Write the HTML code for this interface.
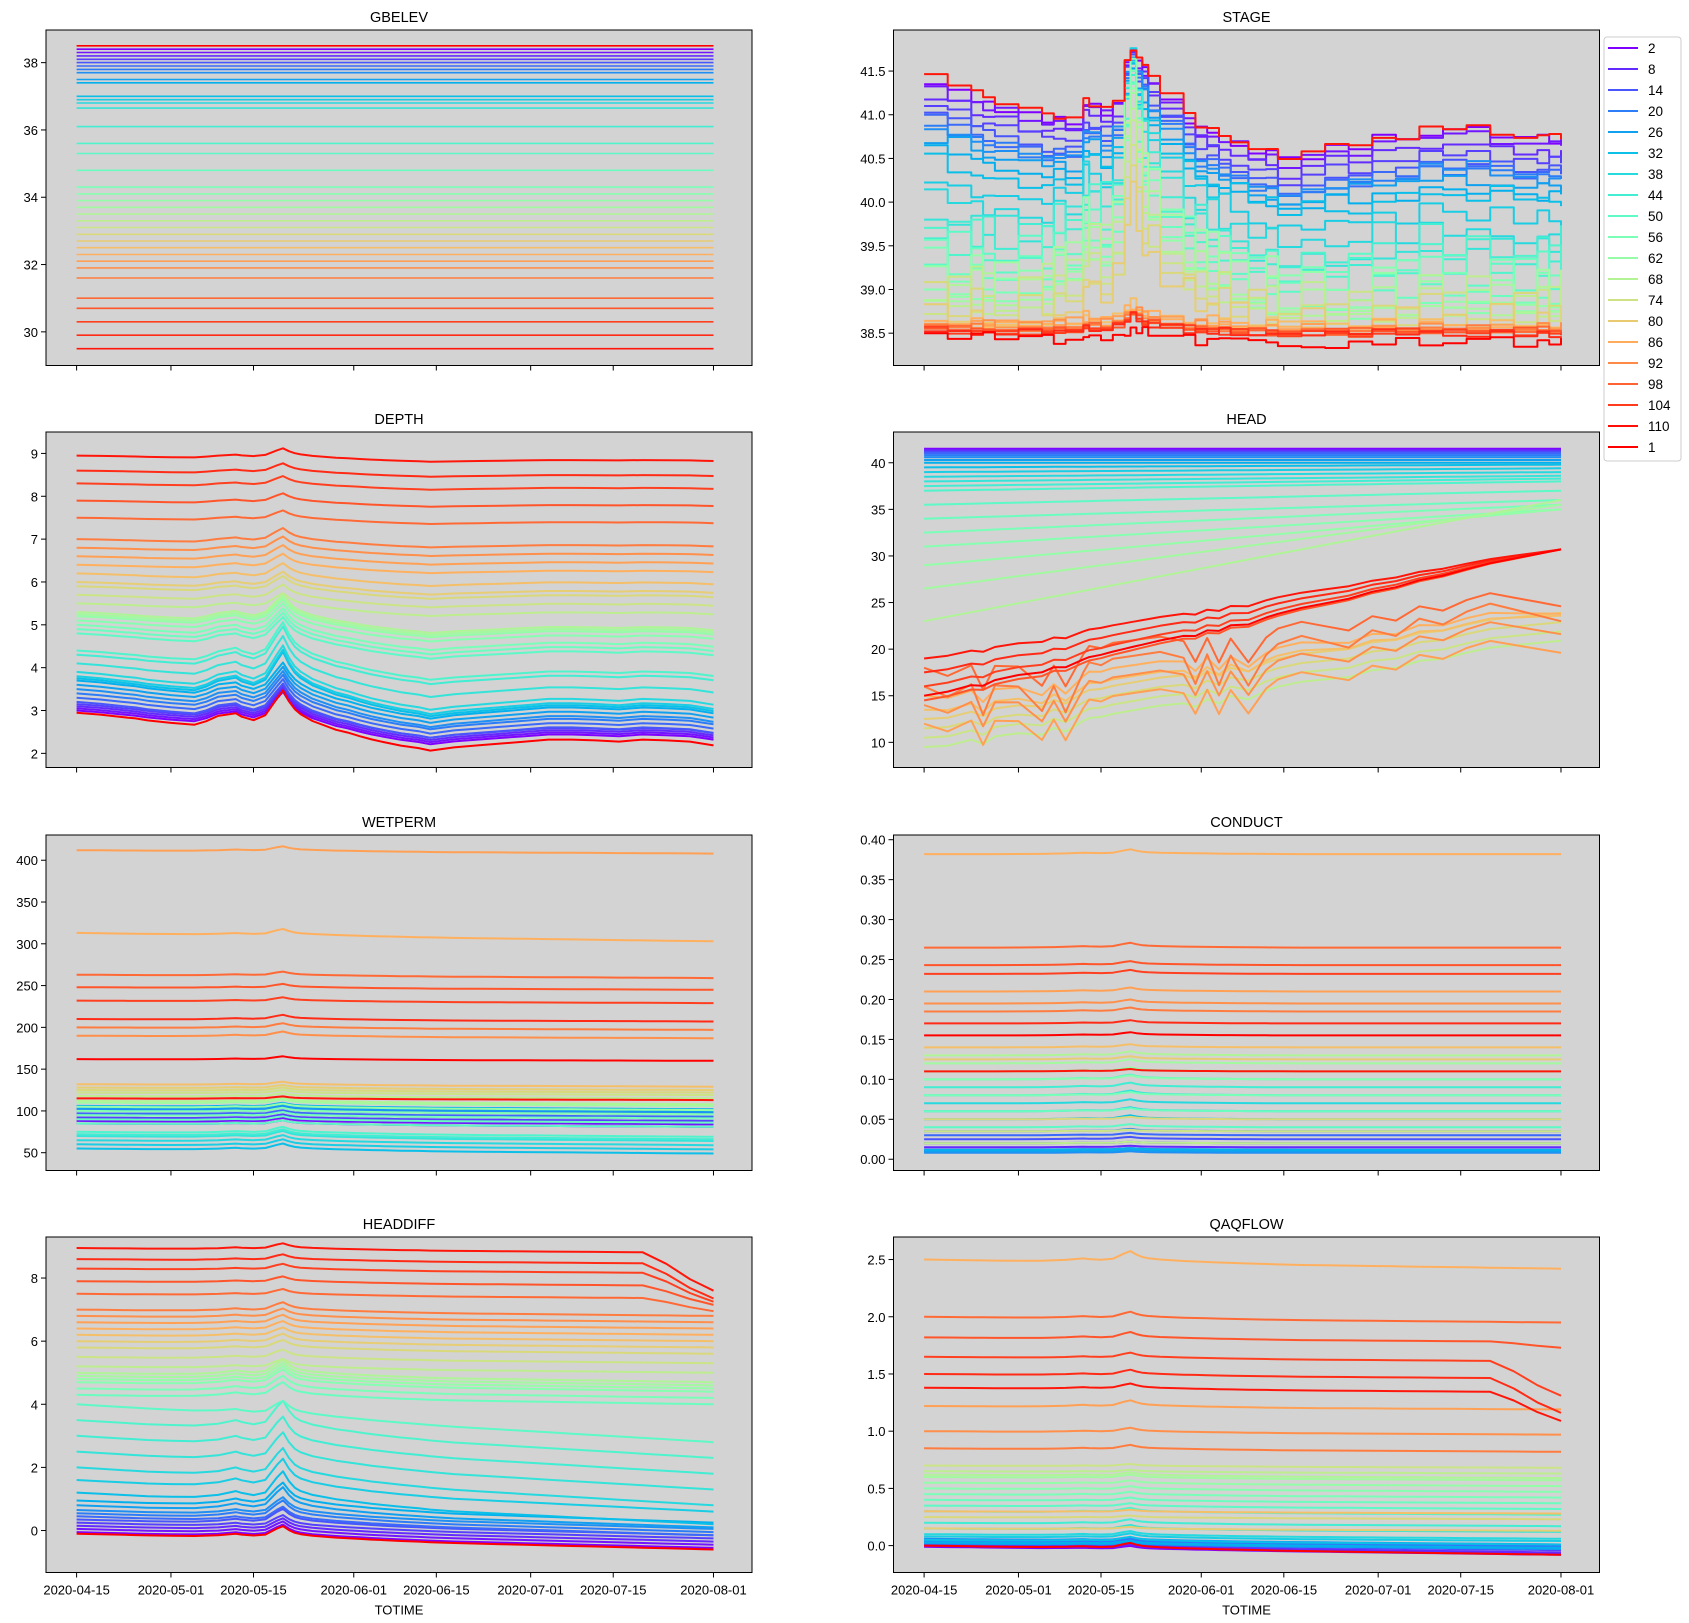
<!DOCTYPE html>
<html><head><meta charset="utf-8">
<style>
html,body{margin:0;padding:0;background:#fff;}
svg{display:block;font-family:"Liberation Sans","DejaVu Sans",sans-serif;}
</style></head>
<body>
<svg id="fig" width="1689" height="1623" viewBox="0 0 1689 1623" xmlns="http://www.w3.org/2000/svg"></svg>
<script>
// ---- shared time axis (days since 2020-04-15) ----
const days = [0,4,8,10,12,16,20,22,24,27,28,30,32,34,35,36,37,38,40,44,46,48,50,52,55,58,60,64,68,72,76,80,84,88,92,96,100,104,106,108];
// shared temporal profiles
const pulse = [0,0,0,0,0,0.02,0.05,0.1,0.15,0.3,0.25,0.2,0.3,0.8,1.0,0.7,0.5,0.4,0.3,0.2,0.17,0.14,0.11,0.09,0.06,0.04,0.02,0,0,0,0,0,0,0,0,0,0,0,0,0];
const dips = [0,-0.3,-0.1,-0.8,-0.2,-0.3,-0.9,-0.4,-1,-0.2,0,-0.1,0,0,0,0,0,0,0,-0.2,-0.8,-0.2,-0.9,-0.3,-1,-0.4,-0.2,-0.1,-0.3,-0.5,-0.2,-0.4,-0.1,-0.3,-0.1,0,-0.2,-0.4,-0.5,-0.6];
const droop = [0,0,0,0,0,0,0,0,0,0,0,0,0,0,0,0,0,0,0,0,0,0,0,0,0,0,0,0,0,0,0,0,0,0,0,0,0.3,0.7,0.85,1.0];
const steps = [0,0.5,-0.5,0.5,-1,0.5,-0.5,1,-0.5,0,1,-1,0.5,1,1,1,0.5,0,-0.5,-1,0.5,-0.5,1,-1,-0.5,0.5,1,-1,0.5,-0.5,1,0,-1,0.5,1,-0.5,0.5,1,-1,0];
const spikes = [0,1,0,0.6,0,1,0,0.8,0,0,0.7,0,0.5,0,0,0,0,0,0,0,0.6,0,0.9,0,0.5,0,0,0.7,0,1,0,0.5,0,0.8,0,0.6,0,1,0,0];
const stageTrend = [0,-0.1,-0.2,-0.25,-0.3,-0.4,-0.5,-0.55,-0.6,-0.5,-0.5,-0.5,-0.5,-0.4,-0.4,-0.3,-0.2,-0.3,-0.4,-0.6,-0.7,-0.7,-0.8,-0.8,-0.9,-0.9,-1.0,-0.9,-0.8,-0.8,-0.7,-0.7,-0.6,-0.6,-0.6,-0.65,-0.7,-0.7,-0.7,-0.7];
const depthTrend = [0,-0.05,-0.12,-0.15,-0.2,-0.28,-0.35,-0.3,-0.2,-0.25,-0.3,-0.35,-0.3,-0.25,-0.2,-0.25,-0.3,-0.35,-0.45,-0.6,-0.65,-0.72,-0.78,-0.83,-0.9,-0.95,-1.0,-0.9,-0.85,-0.8,-0.75,-0.7,-0.7,-0.72,-0.75,-0.7,-0.72,-0.75,-0.8,-0.85];
const xTickDays = [0,16,30,47,61,77,91,108];
const xTickLabels = ["2020-04-15","2020-05-01","2020-05-15","2020-06-01","2020-06-15","2020-07-01","2020-07-15","2020-08-01"];
const legendLabels = ["2","8","14","20","26","32","38","44","50","56","62","68","74","80","86","92","98","104","110","1"];

// ---- per-plot series (37 rainbow wells + well "1") ----
const gbBase = [38.4,38.3,38.2,38.1,38.0,37.9,37.8,37.7,37.5,37.4,37.0,36.9,36.8,36.65,36.1,35.6,35.3,34.8,34.3,34.1,33.9,33.7,33.5,33.3,33.1,32.9,32.7,32.5,32.3,32.1,31.9,31.6,31.0,30.7,30.3,29.9,29.5,38.5];

const stBase = [41.35,41.3,41.2,41.1,41.0,40.95,40.9,40.8,40.7,40.6,40.4,40.2,40.0,39.8,39.6,39.45,39.3,39.2,39.1,39.0,38.95,38.9,38.85,38.8,38.75,38.7,38.65,38.6,38.6,38.58,38.56,38.55,38.54,38.53,38.52,38.51,41.45,38.5];
const stTrend = [0.9,0.9,0.9,0.9,0.9,0.9,0.9,0.8,0.8,0.8,0.6,0.6,0.6,0.6,0.4,0.4,0.4,0.4,0.4,0.4,0.2,0.2,0.2,0.2,0.2,0.2,0.2,0.05,0.05,0.05,0.05,0.05,0.05,0.05,0.05,0.05,1.0,0.15];
const stAmp = [0.7,0.75,0.85,0.95,1.0,1.05,1.1,1.2,1.2,1.2,1.4,1.6,1.8,2.0,2.0,2.1,2.2,2.3,2.3,2.3,2.4,2.4,2.3,2.2,2.0,1.8,1.5,0.2,0.2,0.2,0.2,0.2,0.2,0.2,0.2,0.2,0.7,0.1];
const stSpk = [0,0,0,0,0,0,0,0.1,0.1,0.1,0.15,0.15,0.2,0.2,0.4,0.4,0.4,0.4,0.5,0.5,0.5,0.5,0.5,0.5,0.4,0.4,0.3,0.1,0.1,0.1,0.1,0.05,0.05,0.05,0.05,0.05,0,0];
const stJag = [0.05,0.05,0.05,0.05,0.05,0.05,0.05,0.05,0.05,0.05,0.05,0.05,0.05,0.05,0.03,0.03,0.03,0.03,0.03,0.03,0.03,0.03,0.03,0.03,0.03,0.03,0.03,0.02,0.02,0.02,0.02,0.02,0.02,0.02,0.02,0.02,0.03,0.05];

const dpBase = [3.0,3.05,3.1,3.15,3.2,3.3,3.4,3.5,3.6,3.7,3.75,3.8,3.9,4.1,4.3,4.4,4.8,4.9,5.0,5.1,5.2,5.25,5.3,5.5,5.7,5.9,6.0,6.2,6.4,6.6,6.8,7.0,7.5,7.9,8.3,8.6,8.95,2.95];
const dpDrift = [-0.8,-0.8,-0.8,-0.8,-0.85,-0.85,-0.85,-0.9,-0.9,-0.9,-0.9,-0.9,-0.9,-0.8,-0.7,-0.7,-0.6,-0.6,-0.6,-0.5,-0.5,-0.5,-0.5,-0.3,-0.3,-0.3,-0.3,-0.3,-0.2,-0.2,-0.2,-0.2,-0.15,-0.15,-0.15,-0.15,-0.15,-0.9];
const dpAmp = [0.6,0.6,0.6,0.6,0.6,0.6,0.6,0.6,0.6,0.6,0.8,0.8,0.8,0.8,0.8,0.8,0.5,0.5,0.5,0.5,0.5,0.5,0.5,0.3,0.3,0.3,0.3,0.3,0.3,0.3,0.3,0.3,0.2,0.2,0.2,0.2,0.2,0.7];

const hdBase = [41.5,41.4,41.3,41.2,41.1,41.0,40.8,40.6,40.3,40.0,39.5,39,38.5,38,37.5,37,35.5,34,32.5,31,29,26.5,23,9.5,10.5,11.5,12.5,13.5,15,12,14,16,18,14.5,16,17.5,19,15];
const hdDrift = [0,0,0,0,0,0,0,0,0,0,0.3,0.4,0.5,0.6,0.8,1,1.5,2,3,4,6,9,13,12,12,12,12,11,10,10,10,10,9,16.5,15,13.5,12,16];
const hdWig = [0,0,0,0,0,0,0,0,0,0,0,0,0,0,0,0,0,0,0,0,0,0,0,1,1,1,1,1.5,2,4,4,5,4,0.5,0.5,0.5,0.5,0.5];

const wpBase = [85,88,90,92,95,97,100,102,104,106,55,60,65,70,72,75,85,90,95,100,105,110,112,118,122,125,128,132,313,412,190,200,263,248,232,210,115,162];
const wpAmp = [5,5,5,5,5,5,5,5,5,5,8,8,8,8,8,8,5,5,5,5,5,5,5,4,4,4,4,4,8,6,6,6,5,5,5,6,3,4];
const wpDrift = [-4,-4,-4,-4,-4,-4,-4,-4,-4,-4,-6,-6,-6,-6,-6,-6,-4,-4,-4,-4,-4,-4,-4,-3,-3,-3,-3,-3,-10,-4,-3,-3,-4,-3,-3,-3,-2,-2];

const cdBase = [0.01,0.012,0.015,0.02,0.025,0.03,0.035,0.008,0.01,0.012,0.05,0.06,0.07,0.08,0.09,0.1,0.04,0.06,0.08,0.1,0.11,0.12,0.13,0.02,0.035,0.05,0.125,0.14,0.382,0.21,0.195,0.185,0.265,0.243,0.232,0.17,0.11,0.155];
const cdAmp = [0.002,0.002,0.002,0.002,0.003,0.003,0.003,0.002,0.002,0.002,0.005,0.005,0.005,0.006,0.006,0.006,0.004,0.004,0.004,0.005,0.005,0.005,0.005,0.002,0.002,0.003,0.004,0.004,0.006,0.005,0.005,0.005,0.006,0.005,0.005,0.004,0.003,0.004];

const hfBase = [-0.05,0.05,0.15,0.25,0.35,0.45,0.55,0.65,0.8,0.95,1.2,1.6,2.0,2.5,3.0,3.5,4.0,4.3,4.5,4.7,4.8,4.9,5.0,5.2,5.5,5.8,6.0,6.2,6.4,6.6,6.8,7.0,7.5,7.9,8.3,8.6,8.95,-0.1];
const hfDrift = [-0.5,-0.5,-0.5,-0.5,-0.5,-0.6,-0.6,-0.6,-0.7,-0.7,-1.0,-1.0,-1.2,-1.2,-1.2,-1.2,-1.2,-0.3,-0.3,-0.3,-0.3,-0.3,-0.3,-0.2,-0.2,-0.2,-0.2,-0.2,-0.2,-0.2,-0.2,-0.2,-0.15,-0.15,-0.15,-0.15,-0.15,-0.5];
const hfAmp = [0.4,0.4,0.4,0.4,0.5,0.5,0.6,0.6,0.8,0.8,1.0,1.0,1.0,1.0,1.0,1.0,0.5,0.5,0.5,0.5,0.5,0.5,0.5,0.3,0.3,0.3,0.3,0.3,0.3,0.3,0.3,0.3,0.2,0.2,0.2,0.2,0.2,0.4];
const hfDroop = [0,0,0,0,0,0,0,0,0,0,0,0,0,0,0,0,0,0,0,0,0,0,0,0,0,0,0,0,0,0,0,0,-0.4,-0.6,-0.9,-1.1,-1.2,0];

const qfBase = [-0.01,0,0.01,0.02,0.03,0.04,0.05,0.06,0.02,0.03,0.05,0.08,0.1,0.15,0.2,0.3,0.35,0.4,0.45,0.5,0.55,0.6,0.62,0.65,0.7,0.25,0.15,0.3,2.5,1.22,1.0,0.85,2.0,1.82,1.65,1.5,1.38,0.0];
const qfDrift = [-0.07,-0.07,-0.07,-0.06,-0.06,-0.05,-0.05,-0.05,-0.05,-0.05,-0.04,-0.04,-0.04,-0.03,-0.03,-0.03,-0.03,-0.03,-0.03,-0.03,-0.03,-0.03,-0.03,-0.02,-0.02,-0.02,-0.02,-0.02,-0.08,-0.03,-0.03,-0.03,-0.05,-0.04,-0.04,-0.04,-0.04,-0.08];
const qfAmp = [0.03,0.03,0.03,0.03,0.03,0.03,0.03,0.03,0.03,0.03,0.04,0.04,0.04,0.04,0.04,0.04,0.03,0.03,0.03,0.03,0.03,0.03,0.03,0.02,0.02,0.02,0.02,0.02,0.1,0.06,0.04,0.04,0.06,0.06,0.05,0.05,0.05,0.05];
const qfDroop = [0,0,0,0,0,0,0,0,0,0,0,0,0,0,0,0,0,0,0,0,0,0,0,0,0,0,0,0,0,0,0,0,0,-0.05,-0.3,-0.3,-0.25,0];

// ---- layout ----
const NS = "http://www.w3.org/2000/svg";
const svg = document.getElementById('fig');
const colX = [46, 893.5], axW = 706, rowY = [30, 432, 835, 1237], axH = 335.5;
function xScale(ax, d){ return ax.x + 30.6 + d * 5.897; }
function yScale(ax, v){ return ax.y + (ax.ymax - v) / (ax.ymax - ax.ymin) * axH; }
function rainbow(t){
  const r = Math.min(1, Math.abs(2*t - 0.5)), g = Math.sin(Math.PI*t), b = Math.cos(Math.PI*t/2);
  return `rgb(${Math.round(r*255)},${Math.round(Math.max(0,g)*255)},${Math.round(Math.max(0,b)*255)})`;
}
function seriesColor(i){ return i === 37 ? 'rgb(255,0,0)' : rainbow(i/37); }
function mk(tag, attrs, parent){
  const e = document.createElementNS(NS, tag);
  for (const k in attrs) e.setAttribute(k, attrs[k]);
  (parent || svg).appendChild(e); return e;
}
const plots = [
  {title:'GBELEV', col:0, row:0, ymin:29.0, ymax:38.97, ticks:[30,32,34,36,38], fmt:v=>v.toFixed(0), base:gbBase, lw:1.6},
  {title:'STAGE', col:1, row:0, ymin:38.13, ymax:41.97, ticks:[38.5,39,39.5,40,40.5,41,41.5], fmt:v=>v.toFixed(1), base:stBase, trendArr:stageTrend, trend:stTrend, amp:stAmp, spk:stSpk, jag:stJag, step:true},
  {title:'DEPTH', col:0, row:1, ymin:1.67, ymax:9.5, ticks:[2,3,4,5,6,7,8,9], fmt:v=>v.toFixed(0), base:dpBase, trendArr:depthTrend, trend:dpDrift.map(v=>-v), amp:dpAmp},
  {title:'HEAD', col:1, row:1, ymin:7.3, ymax:43.3, ticks:[10,15,20,25,30,35,40], fmt:v=>v.toFixed(0), base:hdBase, drift:hdDrift, wig:hdWig},
  {title:'WETPERM', col:0, row:2, ymin:28.7, ymax:430.2, ticks:[50,100,150,200,250,300,350,400], fmt:v=>v.toFixed(0), base:wpBase, drift:wpDrift, amp:wpAmp},
  {title:'CONDUCT', col:1, row:2, ymin:-0.0141, ymax:0.4059, ticks:[0,0.05,0.1,0.15,0.2,0.25,0.3,0.35,0.4], fmt:v=>v.toFixed(2), base:cdBase, amp:cdAmp},
  {title:'HEADDIFF', col:0, row:3, ymin:-1.33, ymax:9.30, ticks:[0,2,4,6,8], fmt:v=>v.toFixed(0), base:hfBase, drift:hfDrift, amp:hfAmp, droop:hfDroop},
  {title:'QAQFLOW', col:1, row:3, ymin:-0.235, ymax:2.697, ticks:[0,0.5,1,1.5,2,2.5], fmt:v=>v.toFixed(1), base:qfBase, drift:qfDrift, amp:qfAmp, droop:qfDroop}
];

plots.forEach(p => {
  const ax = {x: colX[p.col], y: rowY[p.row], ymin:p.ymin, ymax:p.ymax};
  const g = mk('g', {});
  
  
  const bg = mk('rect', {x:ax.x, y:ax.y, width:axW, height:axH, fill:'#d3d3d3'}, g);
  
  
  const clipId = 'clip' + p.title;
  const cp = mk('clipPath', {id:clipId}, g);
  mk('rect', {x:ax.x, y:ax.y, width:axW, height:axH}, cp);
  const lines = mk('g', {'clip-path':`url(#${clipId})`}, g);
  for (let i = 0; i < p.base.length; i++){
    let d = '';
    for (let k = 0; k < days.length; k++){
      const frac = days[k] / 108;
      let v = p.base[i];
      if (p.drift) v += p.drift[i] * frac;
      if (p.trend) v += p.trend[i] * p.trendArr[k];
      if (p.amp) v += p.amp[i] * pulse[k];
      if (p.wig) v += p.wig[i] * dips[k];
      if (p.droop) v += p.droop[i] * droop[k];
      if (p.spk) v += p.spk[i] * spikes[(k + i*5) % spikes.length];
      if (p.jag) v += p.jag[i] * steps[(k + i*3) % steps.length];
      const px = xScale(ax, days[k]), py = yScale(ax, v);
      if (k === 0) d += `M${px.toFixed(1)},${py.toFixed(1)}`;
      else if (p.step) d += `H${px.toFixed(1)}V${py.toFixed(1)}`;
      else d += `L${px.toFixed(1)},${py.toFixed(1)}`;
    }
    const path = mk('path', {d:d, fill:'none', stroke:seriesColor(i), 'stroke-width':p.lw || 2, 'stroke-linejoin':'round'}, lines);
    
    
  }
  mk('rect', {x:ax.x, y:ax.y, width:axW, height:axH, fill:'none', stroke:'#000', 'stroke-width':1}, g);
  const t = mk('text', {x:ax.x + axW/2, y:ax.y - 8, 'text-anchor':'middle', 'font-size':14.5, fill:'#000'}, g);
  t.textContent = p.title;
  
  
  p.ticks.forEach(v => {
    const py = yScale(ax, v);
    mk('line', {x1:ax.x-5, x2:ax.x, y1:py, y2:py, stroke:'#000', 'stroke-width':1}, g);
    const tl = mk('text', {x:ax.x-8, y:py+5, 'text-anchor':'end', 'font-size':13, fill:'#000'}, g);
    tl.textContent = p.fmt(v);
    
    
  });
  xTickDays.forEach((dd, j) => {
    const px = xScale(ax, dd);
    mk('line', {x1:px, x2:px, y1:ax.y+axH, y2:ax.y+axH+5, stroke:'#000', 'stroke-width':1}, g);
    if (p.row === 3){
      const xl = mk('text', {x:px, y:ax.y+axH+22, 'text-anchor':'middle', 'font-size':13, fill:'#000'}, g);
      xl.textContent = xTickLabels[j];
      
      
    }
  });
  if (p.row === 3){
    const xt = mk('text', {x:ax.x + axW/2, y:ax.y+axH+42, 'text-anchor':'middle', 'font-size':13, fill:'#000'}, g);
    xt.textContent = 'TOTIME';
    
    
  }
});

// legend
const lg = mk('g', {});


mk('rect', {x:1604, y:37, width:77, height:424, rx:3, fill:'#fff', stroke:'#ccc', 'stroke-width':1}, lg);
legendLabels.forEach((lab, j) => {
  const y = 48 + j * 21;
  const n = parseInt(lab, 10);
  const col = lab === '1' ? 'rgb(255,0,0)' : rainbow((n - 2) / 110);
  const ln = mk('line', {x1:1608, x2:1638, y1:y, y2:y, stroke:col, 'stroke-width':2}, lg);
  
  
  const tx = mk('text', {x:1648, y:y+5, 'font-size':13.5, fill:'#000'}, lg);
  tx.textContent = lab;
  
  
});
</script>
</body></html>
